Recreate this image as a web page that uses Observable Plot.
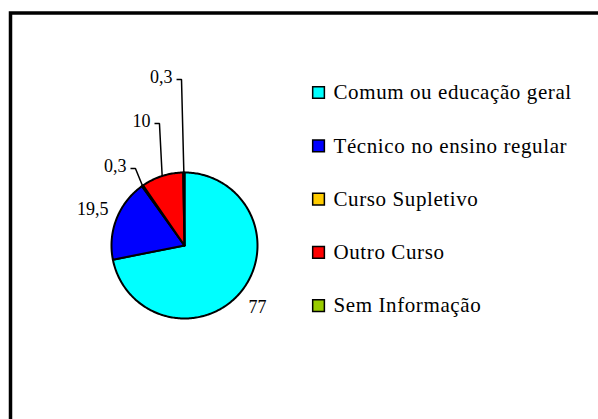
<!DOCTYPE html>
<html><head><meta charset="utf-8">
<script src="https://cdn.jsdelivr.net/npm/d3@7"></script>
<script src="https://cdn.jsdelivr.net/npm/@observablehq/plot@0.6"></script>
<style>html,body{margin:0;padding:0;background:#fff;} .legend-text text{letter-spacing:0.6px;}</style>
</head><body><div id="chart"></div>
<script>
// ---- data ----
const categories = ["Comum ou educação geral", "Técnico no ensino regular", "Curso Supletivo", "Outro Curso", "Sem Informação"];
const values = [77, 19.5, 0.3, 10, 0.3];
const valueLabels = ["77", "19,5", "0,3", "10", "0,3"];
const colors = ["#00FFFF", "#0000FF", "#FFCC00", "#FF0000", "#99CC00"];

// ---- layout (pie-radius units, x right / y up from pie centre) ----
const labelX = [0.877, -1.041, -0.795, -0.466, -0.164];
const labelY = [-0.849, 0.493, 1.082, 1.699, 2.301];
const labelAnchor = ["start", "end", "end", "end", "end"];
const hasLeader = [false, false, true, true, true];
const legendSwatchX = 1.836, legendTextX = 2.041, legendTop = 2.096, legendStep = 0.730;

// ---- geometry from the values ----
const arcs = d3.pie().sort(null).value(d => d)(values);
const slicePts = [];
arcs.forEach((a, i) => {
  const n = Math.max(2, Math.ceil((a.endAngle - a.startAngle) / (Math.PI / 180)));
  slicePts.push({cat: categories[i], x: 0, y: 0});
  for (let k = 0; k <= n; k++) {
    const t = a.startAngle + (a.endAngle - a.startAngle) * k / n;
    slicePts.push({cat: categories[i], x: Math.sin(t), y: Math.cos(t)});
  }
});
const labels = arcs.map((a, i) => ({text: valueLabels[i], x: labelX[i], y: labelY[i], anchor: labelAnchor[i]}));
const leaderPts = [];
arcs.forEach((a, i) => {
  if (!hasLeader[i]) return;
  const mid = (a.startAngle + a.endAngle) / 2;
  leaderPts.push({id: i, x: labelX[i] + 0.055, y: labelY[i] - 0.027});
  leaderPts.push({id: i, x: labelX[i] + 0.123, y: labelY[i] - 0.027});
  leaderPts.push({id: i, x: Math.sin(mid), y: Math.cos(mid)});
});
const legend = categories.map((c, i) => ({cat: c, y: legendTop - legendStep * i}));

const chart = Plot.plot({
  width: 598, height: 419, margin: 0,
  x: {domain: [-1, 1], range: [111, 257], axis: null},
  y: {domain: [-1, 1], range: [318, 172], axis: null},
  color: {domain: categories, range: colors},
  style: {fontFamily: "'Liberation Serif', 'Times New Roman', serif", background: "white", color: "black"},
  marks: [
    Plot.frame({stroke: "black", strokeWidth: 3.5, insetLeft: 10, insetTop: 12.5, insetRight: -20, insetBottom: -20}),
    Plot.line(slicePts, {x: "x", y: "y", z: "cat", fill: "cat", stroke: "black", strokeWidth: 2, curve: "linear-closed", strokeLinejoin: "round"}),
    Plot.line(leaderPts, {x: "x", y: "y", z: "id", stroke: "black", strokeWidth: 1.5, strokeLinejoin: "miter", strokeLinecap: "butt"}),
    Plot.text(labels.filter(d => d.anchor === "start"), {x: "x", y: "y", text: "text", textAnchor: "start", fontSize: 18, fill: "black"}),
    Plot.text(labels.filter(d => d.anchor === "end"), {x: "x", y: "y", text: "text", textAnchor: "end", fontSize: 18, fill: "black"}),
    Plot.dot(legend, {x: () => legendSwatchX, y: "y", symbol: "square", r: 6.6, fill: "cat", stroke: "black", strokeWidth: 1.5}),
    Plot.text(legend, {x: () => legendTextX, y: "y", text: "cat", textAnchor: "start", fontSize: 21, fill: "black", className: "legend-text"})
  ]
});
document.getElementById("chart").appendChild(chart);
</script>
</body></html>
